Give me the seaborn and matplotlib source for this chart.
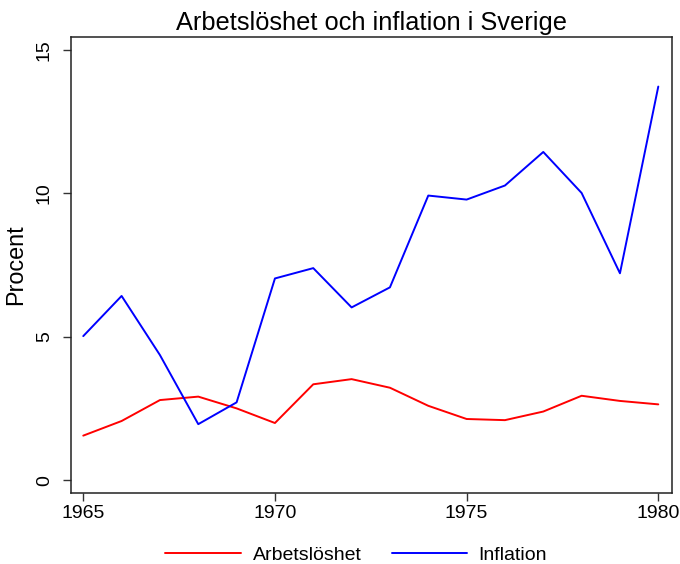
import matplotlib
matplotlib.use("Agg")
import matplotlib.pyplot as plt
import seaborn as sns
import pandas as pd

years = list(range(1965, 1981))
arbetsloshet = [1.55, 2.06, 2.79, 2.91, 2.50, 1.99, 3.34, 3.52, 3.22, 2.59, 2.13, 2.09, 2.39, 2.94, 2.76, 2.64]
inflation = [5.02, 6.42, 4.36, 1.95, 2.71, 7.03, 7.39, 6.02, 6.72, 9.92, 9.78, 10.27, 11.44, 10.01, 7.21, 13.72]
series_names = ["Arbetslöshet", "Inflation"]
series_colors = ["#ff0000", "#0000ff"]
xticks = [1965, 1970, 1975, 1980]
yticks = [0, 5, 10, 15]

df = pd.DataFrame({
    "År": years * 2,
    "Procent": arbetsloshet + inflation,
    "Serie": [series_names[0]] * len(years) + [series_names[1]] * len(years),
})

sns.set_theme(style="ticks")
plt.rcParams["font.family"] = ["Liberation Sans", "DejaVu Sans"]
plt.rcParams["text.color"] = "black"
plt.rcParams["xtick.labelcolor"] = "black"
plt.rcParams["ytick.labelcolor"] = "black"
plt.rcParams["axes.labelcolor"] = "black"

fig = plt.figure(figsize=(6.8, 5.64), dpi=100)
ax = fig.add_axes([0.1044, 0.1264, 0.8834, 0.8086])

sns.lineplot(data=df, x="År", y="Procent", hue="Serie", palette=series_colors,
             hue_order=series_names, linewidth=1.4, ax=ax, legend=True)

ax.set_xlim(1964.68, 1980.35)
ax.set_ylim(-0.44, 15.46)
ax.set_xticks(xticks)
ax.set_yticks(yticks)
ax.set_xticklabels([str(t) for t in xticks], fontsize=14, color="black")
ax.set_yticklabels([str(t) for t in yticks], fontsize=14, rotation=90, va="center", color="black")
ax.tick_params(axis="both", direction="out", length=6, width=1, color="#333333")
ax.tick_params(axis="y", pad=7)
ax.tick_params(axis="x", pad=3)
for s in ax.spines.values():
    s.set_linewidth(1.1)
    s.set_color("#222222")
ax.set_xlabel("")
ax.set_ylabel("Procent", fontsize=16.8, labelpad=6, color="black")
ax.set_title("Arbetslöshet och inflation i Sverige", fontsize=18.3, pad=5, color="black")

handles, labels = ax.get_legend_handles_labels()
leg = ax.legend(handles, labels, loc="center", bbox_to_anchor=(0.475, -0.136), ncol=2,
                frameon=False, fontsize=14, handlelength=3.86, columnspacing=1.55,
                handletextpad=0.62, borderpad=0.1)
for t in leg.get_texts():
    t.set_color("black")

fig.savefig("out.png", dpi=100)
